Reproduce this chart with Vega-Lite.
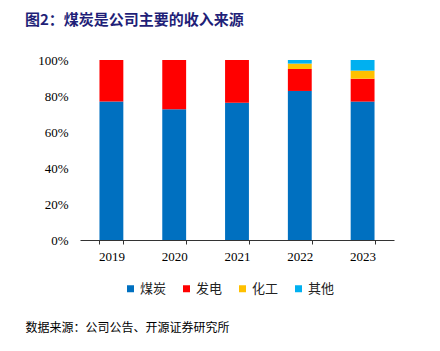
{
  "$schema": "https://vega.github.io/schema/vega-lite/v6.json",
  "width": 314,
  "height": 180,
  "autosize": {"type": "none"},
  "padding": {"left": 80, "top": 60, "right": 46, "bottom": 111},
  "background": "white",
  "title": {
    "text": "图2：煤炭是公司主要的收入来源",
    "anchor": "start",
    "frame": "group",
    "orient": "top",
    "dx": -55,
    "offset": 26,
    "font": "Noto Sans CJK SC",
    "fontSize": 15,
    "fontWeight": "bold",
    "color": "#1F1F78"
  },
  "data": {
    "values": [
      {"year": "2019", "type": "煤炭", "k": 1, "v": 0.769},
      {"year": "2019", "type": "发电", "k": 2, "v": 0.231},
      {"year": "2020", "type": "煤炭", "k": 1, "v": 0.726},
      {"year": "2020", "type": "发电", "k": 2, "v": 0.274},
      {"year": "2021", "type": "煤炭", "k": 1, "v": 0.763},
      {"year": "2021", "type": "发电", "k": 2, "v": 0.237},
      {"year": "2022", "type": "煤炭", "k": 1, "v": 0.828},
      {"year": "2022", "type": "发电", "k": 2, "v": 0.122},
      {"year": "2022", "type": "化工", "k": 3, "v": 0.030},
      {"year": "2022", "type": "其他", "k": 4, "v": 0.020},
      {"year": "2023", "type": "煤炭", "k": 1, "v": 0.769},
      {"year": "2023", "type": "发电", "k": 2, "v": 0.127},
      {"year": "2023", "type": "化工", "k": 3, "v": 0.045},
      {"year": "2023", "type": "其他", "k": 4, "v": 0.059}
    ]
  },
  "mark": {"type": "bar"},
  "encoding": {
    "x": {
      "field": "year",
      "type": "nominal",
      "scale": {"paddingInner": 0.62, "paddingOuter": 0.31},
      "axis": {
        "labelAngle": 0,
        "labelFont": "Liberation Serif",
        "labelFontSize": 13,
        "labelColor": "#000",
        "labelPadding": 6,
        "tickBand": "extent",
        "tickSize": 4,
        "tickColor": "#333",
        "domainColor": "#333",
        "title": "数据来源：公司公告、开源证券研究所",
        "titleFont": "Noto Sans CJK SC",
        "titleFontSize": 12,
        "titleFontWeight": "normal",
        "titleColor": "#000",
        "titleAlign": "left",
        "titleAnchor": "start",
        "titleBaseline": "middle",
        "titleX": -55,
        "titleY": 87
      }
    },
    "y": {
      "field": "v",
      "type": "quantitative",
      "stack": "zero",
      "scale": {"domain": [0, 1]},
      "axis": {
        "format": ".0%",
        "values": [0, 0.2, 0.4, 0.6, 0.8, 1],
        "labelOverlap": false,
        "labelFlush": false,
        "grid": false,
        "domain": false,
        "ticks": false,
        "labelFont": "Liberation Serif",
        "labelFontSize": 13,
        "labelColor": "#000",
        "labelPadding": 12,
        "title": null
      }
    },
    "color": {
      "field": "type",
      "type": "nominal",
      "scale": {
        "domain": ["煤炭", "发电", "化工", "其他"],
        "range": ["#0070C0", "#FF0000", "#FFC000", "#00B0F0"]
      },
      "legend": {
        "title": null,
        "orient": "none",
        "direction": "horizontal",
        "legendX": 44,
        "legendY": 222,
        "symbolType": "square",
        "symbolSize": 49,
        "symbolStrokeWidth": 0,
        "labelFont": "Noto Sans CJK SC",
        "labelFontSize": 13,
        "labelColor": "#222",
        "labelOffset": 3,
        "columnPadding": 13
      }
    },
    "order": {"field": "k", "type": "quantitative", "sort": "ascending"}
  },
  "config": {"view": {"stroke": null}}
}
